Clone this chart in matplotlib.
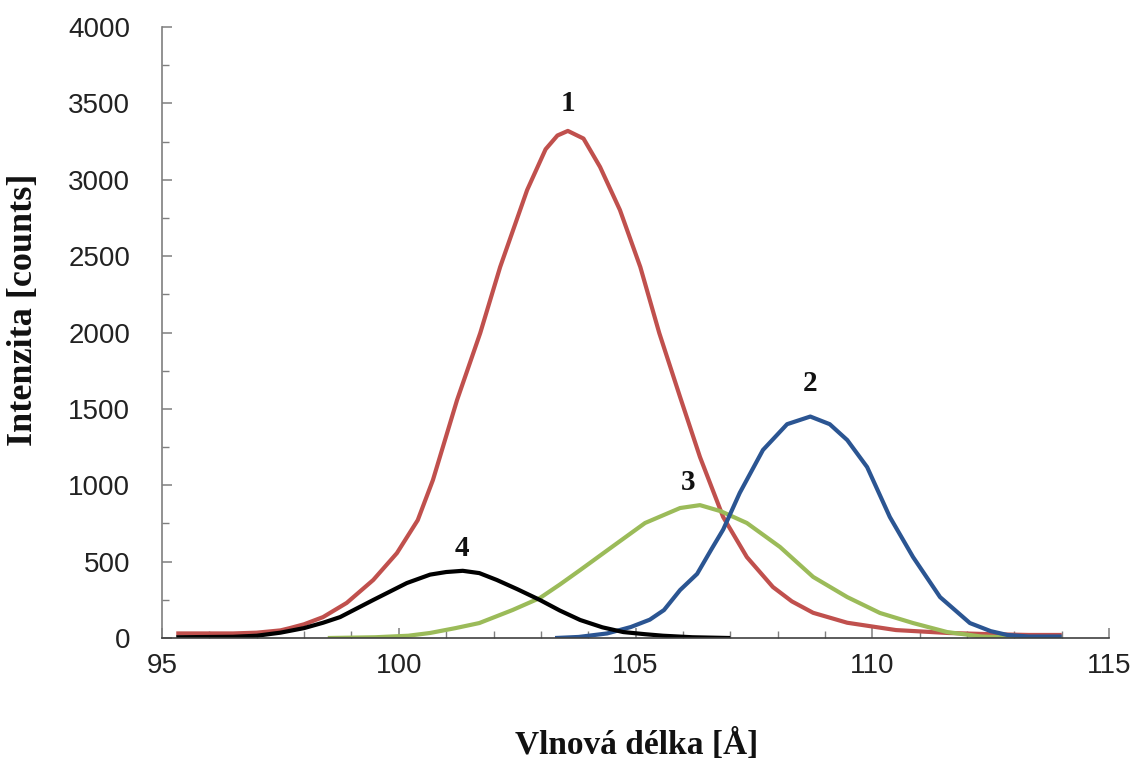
import matplotlib
matplotlib.use("Agg")
import matplotlib.pyplot as plt
from matplotlib.ticker import MultipleLocator

# Wavelength [Å] and intensity [counts] for the four spectral lines
x1 = [95.3, 96.0, 96.5, 97.0, 97.5, 97.7, 98.0, 98.4, 98.9, 99.46, 99.96, 100.4,
      100.72, 101.23, 101.72, 102.14, 102.71, 103.1, 103.35, 103.57, 103.9, 104.25,
      104.67, 105.1, 105.5, 105.94, 106.36, 106.85, 107.35, 107.9, 108.3, 108.75,
      109.47, 110.5, 111.6, 112.5, 113.3, 114.0]
y1 = [30, 30, 30, 35, 50, 65, 90, 137, 230, 380, 556, 772,
      1034, 1558, 1997, 2429, 2933, 3200, 3290, 3320, 3270, 3084,
      2802, 2429, 1997, 1578, 1185, 792, 530, 334, 240, 165,
      100, 52, 33, 25, 20, 20]

x2 = [103.3, 103.8, 104.4, 104.9, 105.3, 105.6, 105.94, 106.3, 106.6, 106.85,
      107.2, 107.69, 108.2, 108.69, 109.1, 109.47, 109.89, 110.37, 110.86, 111.43,
      112.06, 112.5, 112.85, 113.3, 114.0]
y2 = [0, 7, 30, 72, 120, 183, 314, 420, 580, 710,
      950, 1231, 1400, 1450, 1400, 1296, 1119, 792, 530, 268,
      98, 45, 20, 10, 10]

x3 = [98.5, 99.5, 100.2, 100.66, 101.2, 101.7, 102.4, 102.98, 103.4, 103.83,
      104.5, 105.2, 105.94, 106.36, 106.8, 107.35, 108.05, 108.75, 109.47, 110.16,
      110.86, 111.58, 112.3, 113.0, 114.0]
y3 = [0, 5, 15, 33, 65, 98, 183, 262, 350, 445,
      596, 753, 851, 870, 830, 753, 596, 400, 268, 164,
      98, 39, 10, 3, 2]

x4 = [95.3, 96.5, 97.0, 97.5, 98.0, 98.4, 98.76, 99.46, 100.17, 100.66,
      101.0, 101.35, 101.7, 102.07, 102.5, 102.98, 103.4, 103.83, 104.3, 104.74,
      105.2, 105.58, 106.2, 107.0]
y4 = [5, 8, 15, 35, 65, 100, 137, 249, 360, 415,
      432, 440, 425, 380, 320, 249, 180, 118, 70, 39,
      25, 15, 5, 0]

series = [
    (x1, y1, "#C0504D"),
    (x3, y3, "#9BBB59"),
    (x2, y2, "#2B5592"),
    (x4, y4, "#000000"),
]

# Peak labels: text and anchor (wavelength, counts)
peak_names = ["1", "2", "3", "4"]
peak_x = [103.57, 108.69, 106.11, 101.34]
peak_y = [3502, 1669, 1015, 589]

fig = plt.figure(figsize=(11.38, 7.64), dpi=100)
ax = fig.add_axes([0.1424, 0.1649, 0.8322, 0.7997])

for xs, ys, col in series:
    ax.plot(xs, ys, color=col, lw=3.0, solid_joinstyle="round", solid_capstyle="butt")

for name, px, py in zip(peak_names, peak_x, peak_y):
    ax.text(px, py, name, ha="center", va="center", fontsize=21,
            fontweight="bold", family="Liberation Serif", color="#111111")

ax.set_xlim(95, 115)
ax.set_ylim(0, 4000)
ax.xaxis.set_major_locator(MultipleLocator(5))
ax.xaxis.set_minor_locator(MultipleLocator(1))
ax.yaxis.set_major_locator(MultipleLocator(500))
ax.yaxis.set_minor_locator(MultipleLocator(250))

for s in ["top", "right"]:
    ax.spines[s].set_visible(False)
ax.spines["left"].set_color("#7f7f7f")
ax.spines["bottom"].set_color("#404040")
ax.spines["left"].set_linewidth(1.2)
ax.spines["bottom"].set_linewidth(1.2)

ax.tick_params(axis="both", which="both", direction="in", color="#7f7f7f")
ax.tick_params(axis="both", which="major", length=7, width=1.1)
ax.tick_params(axis="both", which="minor", length=5, width=1.0)
ax.tick_params(axis="y", which="major", pad=23)
ax.tick_params(axis="x", which="major", pad=11)

for lab in ax.get_xticklabels() + ax.get_yticklabels():
    lab.set_family("Liberation Sans")
    lab.set_fontsize(20)
    lab.set_color("#222222")

fig.text(0.559, 0.025, "Vlnová délka [Å]", ha="center", va="center",
         fontsize=24, fontweight="bold", family="Liberation Serif", color="#111111")
fig.text(0.021, 0.594, "Intenzita [counts]", ha="center", va="center", rotation=90,
         fontsize=26, fontweight="bold", family="Liberation Serif", color="#111111")

fig.savefig("out.png", dpi=100, facecolor="white")
